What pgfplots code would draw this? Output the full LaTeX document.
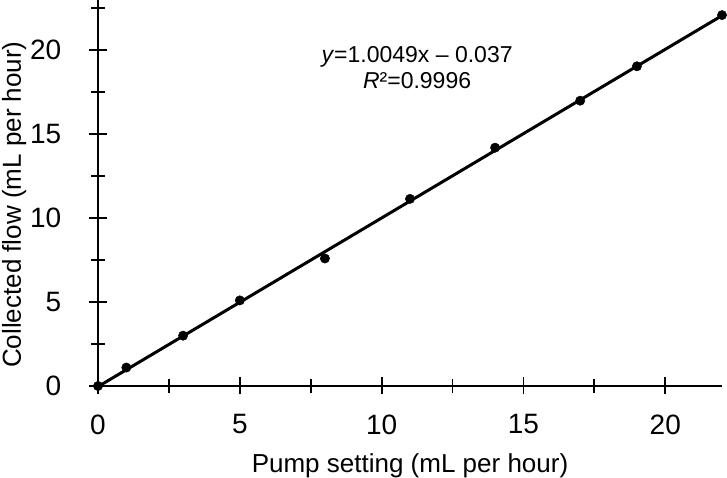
\documentclass[border=0pt]{standalone}
\usepackage{pgfplots}
\pgfplotsset{compat=1.18}
\usetikzlibrary{calc}
\usepackage{fontspec}
\setmainfont{Liberation Sans}
\begin{document}
\begin{tikzpicture}
\begin{axis}[
  name=ax,
  scale only axis,
  width=624pt, height=386pt,
  xmin=0, xmax=22, ymin=0, ymax=23,
  axis lines=left,
  axis line style={line width=2.2pt, -},
  xtick={0,5,10,15,20}, ytick={0,5,10,15,20},
  minor xtick={2.5,7.5,12.5,17.5}, minor ytick={2.5,7.5,12.5,17.5,22.5},
  tick style={line width=1.9pt, black},
  major tick length=17pt, minor tick length=14pt,
  tick align=center,
  tick label style={font=\fontsize{28}{28}\selectfont, inner sep=0pt},
  xticklabel style={anchor=north, yshift=-20pt},
  yticklabel style={anchor=east, xshift=-28pt},
  /pgf/number format/assume math mode=true,
  xlabel={Pump setting (mL per hour)},
  ylabel={Collected flow (mL per hour)},
  label style={font=\fontsize{26}{26}\selectfont, inner sep=0pt},
  xlabel style={at={(axis description cs:0.5,0)}, anchor=base, yshift=-87pt},
  ylabel style={at={(axis description cs:0,0.47)}, anchor=base, yshift=77pt},
  clip=false,
]
\addplot[black, line width=3pt, domain=0:22, samples=2] {1.0049*x-0.037};
\addplot[only marks, mark=*, mark size=4.7pt, black] coordinates {
(0,0) (1,1.1) (3,3.0) (5,5.1) (8,7.6) (11,11.15) (14,14.2) (17,17.0) (19,19.05) (22,22.1)
};
\node[align=center, font=\fontsize{23}{26}\selectfont] at (axis cs:11.25,18.95) {\textit{y}=1.0049x -- 0.037\\\textit{R}²=0.9996};
\end{axis}
\pgfresetboundingbox
\path[use as bounding box] ($(ax.south west)+(-98pt,-92pt)$) rectangle ++(727pt,478pt);
\end{tikzpicture}
\end{document}
